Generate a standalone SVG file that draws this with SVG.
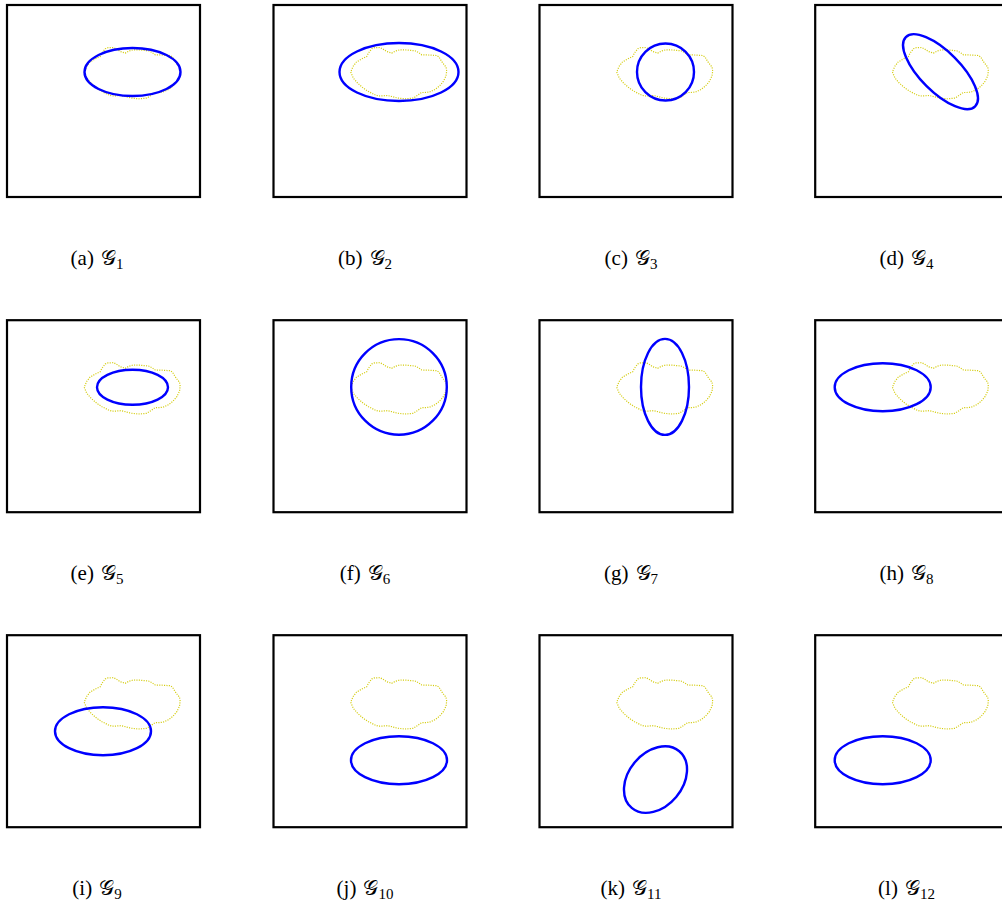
<svg xmlns="http://www.w3.org/2000/svg" xmlns:xlink="http://www.w3.org/1999/xlink" width="1002" height="904" viewBox="0 0 1002 904">
<style>
.frame{fill:none;stroke:#000;stroke-width:2.2}
.est{fill:none;stroke:#0000ff;stroke-width:2.4}
.blob{fill:none;stroke:#d4cc10;stroke-width:1.2;stroke-dasharray:1.1 1.3}
.lbl{font-family:"Liberation Serif","DejaVu Serif",serif;font-size:21px;fill:#000;text-anchor:middle}
.sub{font-size:15px}
</style>
<defs>
<path id="blob" d="M77.2,67.1 L79.8,73.1 L84,78 L89.8,83.1 L95,86.5 L101.5,89.8 L105,91 L109.8,90.8 L114,90.5 L118.2,91.5 L124,93 L131.5,93.8 L136,93.5 L139.8,93.1 L144.8,89.8 L148,87.5 L151.5,87.5 L156,87 L161.5,84.5 L166,81 L169.8,76.5 L172.5,71 L173.2,66 L172.5,62 L170,59 L168.2,56.5 L165.5,52 L163.2,50.5 L155,50 L148.2,49.8 L145,47.5 L141.5,45.8 L133,45 L126.5,44.8 L122,46 L118.2,48.1 L113.2,46.5 L109.5,44 L106.5,42.5 L101,42.7 L98.2,43.8 L95,48 L93.2,51.5 L88,54 L83,57 L79.5,61.5 Z"/>
</defs>
<g id="panel-a" transform="translate(7,5)">
<rect class="frame" x="0" y="0" width="193" height="192"/>
<use href="#blob" class="blob"/>
<ellipse class="est" cx="125.5" cy="67" rx="48" ry="24"/>
</g>
<g id="panel-b" transform="translate(273.5,5)">
<rect class="frame" x="0" y="0" width="193" height="192"/>
<use href="#blob" class="blob"/>
<ellipse class="est" cx="125.5" cy="67" rx="59.5" ry="29"/>
</g>
<g id="panel-c" transform="translate(539.5,5)">
<rect class="frame" x="0" y="0" width="193" height="192"/>
<use href="#blob" class="blob"/>
<circle class="est" cx="126" cy="67" r="28.5"/>
</g>
<g id="panel-d" transform="translate(815.2,5)">
<rect class="frame" x="0" y="0" width="193" height="192"/>
<use href="#blob" class="blob"/>
<ellipse class="est" cx="0" cy="0" rx="49" ry="20" transform="translate(125.3,66.7) rotate(45)"/>
</g>
<g id="panel-e" transform="translate(7,320.2)">
<rect class="frame" x="0" y="0" width="193" height="192"/>
<use href="#blob" class="blob"/>
<ellipse class="est" cx="125.5" cy="67" rx="35.5" ry="17.5"/>
</g>
<g id="panel-f" transform="translate(273.5,320.2)">
<rect class="frame" x="0" y="0" width="193" height="192"/>
<use href="#blob" class="blob"/>
<circle class="est" cx="125.5" cy="66.7" r="47.8"/>
</g>
<g id="panel-g" transform="translate(539.5,320.2)">
<rect class="frame" x="0" y="0" width="193" height="192"/>
<use href="#blob" class="blob"/>
<ellipse class="est" cx="125.5" cy="66.7" rx="24" ry="48"/>
</g>
<g id="panel-h" transform="translate(815.2,320.2)">
<rect class="frame" x="0" y="0" width="193" height="192"/>
<use href="#blob" class="blob"/>
<ellipse class="est" cx="67.5" cy="67" rx="48" ry="24"/>
</g>
<g id="panel-i" transform="translate(7,635.2)">
<rect class="frame" x="0" y="0" width="193" height="192"/>
<use href="#blob" class="blob"/>
<ellipse class="est" cx="96" cy="96" rx="48" ry="24"/>
</g>
<g id="panel-j" transform="translate(273.5,635.2)">
<rect class="frame" x="0" y="0" width="193" height="192"/>
<use href="#blob" class="blob"/>
<ellipse class="est" cx="125.5" cy="125" rx="48" ry="24"/>
</g>
<g id="panel-k" transform="translate(539.5,635.2)">
<rect class="frame" x="0" y="0" width="193" height="192"/>
<use href="#blob" class="blob"/>
<ellipse class="est" cx="0" cy="0" rx="37" ry="27" transform="translate(116,144.4) rotate(-50)"/>
</g>
<g id="panel-l" transform="translate(815.2,635.2)">
<rect class="frame" x="0" y="0" width="193" height="192"/>
<use href="#blob" class="blob"/>
<ellipse class="est" cx="67.5" cy="125" rx="48" ry="24"/>
</g>
<g id="connectors"/>
<g id="labels">
<text class="lbl" x="97" y="265">(a)<tspan dx="7">𝒢</tspan><tspan class="sub" dy="4">1</tspan></text>
<text class="lbl" x="365" y="265">(b)<tspan dx="7">𝒢</tspan><tspan class="sub" dy="4">2</tspan></text>
<text class="lbl" x="631" y="265">(c)<tspan dx="7">𝒢</tspan><tspan class="sub" dy="4">3</tspan></text>
<text class="lbl" x="906.5" y="265">(d)<tspan dx="7">𝒢</tspan><tspan class="sub" dy="4">4</tspan></text>
<text class="lbl" x="97" y="580">(e)<tspan dx="7">𝒢</tspan><tspan class="sub" dy="4">5</tspan></text>
<text class="lbl" x="365" y="580">(f)<tspan dx="7">𝒢</tspan><tspan class="sub" dy="4">6</tspan></text>
<text class="lbl" x="631" y="580">(g)<tspan dx="7">𝒢</tspan><tspan class="sub" dy="4">7</tspan></text>
<text class="lbl" x="906.5" y="580">(h)<tspan dx="7">𝒢</tspan><tspan class="sub" dy="4">8</tspan></text>
<text class="lbl" x="97" y="895">(i)<tspan dx="7">𝒢</tspan><tspan class="sub" dy="4">9</tspan></text>
<text class="lbl" x="365" y="895">(j)<tspan dx="7">𝒢</tspan><tspan class="sub" dy="4">10</tspan></text>
<text class="lbl" x="631" y="895">(k)<tspan dx="7">𝒢</tspan><tspan class="sub" dy="4">11</tspan></text>
<text class="lbl" x="906.5" y="895">(l)<tspan dx="7">𝒢</tspan><tspan class="sub" dy="4">12</tspan></text>
</g>
</svg>
